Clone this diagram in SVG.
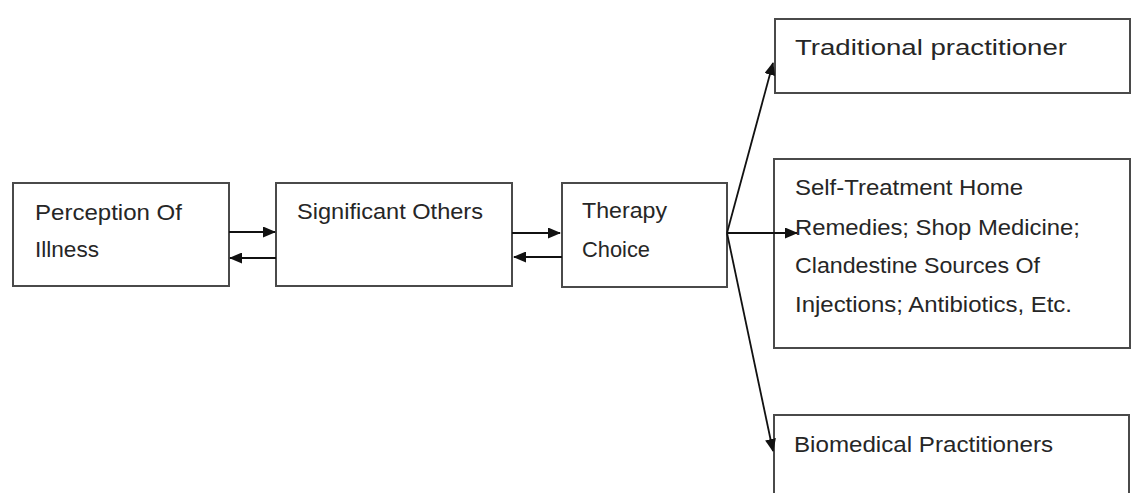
<svg xmlns="http://www.w3.org/2000/svg" width="1135" height="493" viewBox="0 0 1135 493">
<style>
.box{fill:#fff;stroke:#4a4a4a;stroke-width:2}
.t{font-family:"Liberation Sans",Arial,sans-serif;font-size:22px;fill:#262626}
.c{stroke:#111;stroke-width:1.8;fill:none;marker-end:url(#ah)}
</style>
<defs>
<marker id="ah" markerWidth="13" markerHeight="11" refX="12" refY="5.5" orient="auto" markerUnits="userSpaceOnUse">
<path d="M0,0 L13,5.5 L0,11 Z" fill="#111"/>
</marker>
</defs>
<rect width="1135" height="493" fill="#fff"/>
<g id="n-perception">
<rect class="box" x="13" y="183" width="216" height="103"/>
<text class="t" x="35" y="220" textLength="147" lengthAdjust="spacingAndGlyphs">Perception Of</text>
<text class="t" x="35" y="257" textLength="64" lengthAdjust="spacingAndGlyphs">Illness</text>
</g>
<g id="n-significant">
<rect class="box" x="276" y="183" width="236" height="103"/>
<text class="t" x="297" y="219" textLength="186" lengthAdjust="spacingAndGlyphs">Significant Others</text>
</g>
<g id="n-therapy">
<rect class="box" x="562" y="183" width="165" height="104"/>
<text class="t" x="582" y="218" textLength="85" lengthAdjust="spacingAndGlyphs">Therapy</text>
<text class="t" x="582" y="257" textLength="68" lengthAdjust="spacingAndGlyphs">Choice</text>
</g>
<g id="n-traditional">
<rect class="box" x="775" y="19" width="355" height="74"/>
<text class="t" x="795" y="55" textLength="272" lengthAdjust="spacingAndGlyphs">Traditional practitioner</text>
</g>
<g id="n-self">
<rect class="box" x="774" y="159" width="356" height="189"/>
<text class="t" x="795" y="195" textLength="228" lengthAdjust="spacingAndGlyphs">Self-Treatment Home</text>
<text class="t" x="795" y="235" textLength="285" lengthAdjust="spacingAndGlyphs">Remedies; Shop Medicine;</text>
<text class="t" x="795" y="273" textLength="245" lengthAdjust="spacingAndGlyphs">Clandestine Sources Of</text>
<text class="t" x="795" y="312" textLength="277" lengthAdjust="spacingAndGlyphs">Injections; Antibiotics, Etc.</text>
</g>
<g id="n-biomedical">
<rect class="box" x="774" y="415" width="355" height="90"/>
<text class="t" x="794" y="452" textLength="259" lengthAdjust="spacingAndGlyphs">Biomedical Practitioners</text>
</g>
<g id="connectors">
<line class="c" x1="229" y1="232" x2="275" y2="232"/>
<line class="c" x1="276" y1="258" x2="230" y2="258"/>
<line class="c" x1="512" y1="233" x2="560" y2="233"/>
<line class="c" x1="562" y1="257" x2="514" y2="257"/>
<line class="c" x1="727" y1="233" x2="773" y2="63"/>
<line class="c" x1="727" y1="233" x2="797" y2="233"/>
<line class="c" x1="727" y1="233" x2="773" y2="451"/>
</g>
</svg>
